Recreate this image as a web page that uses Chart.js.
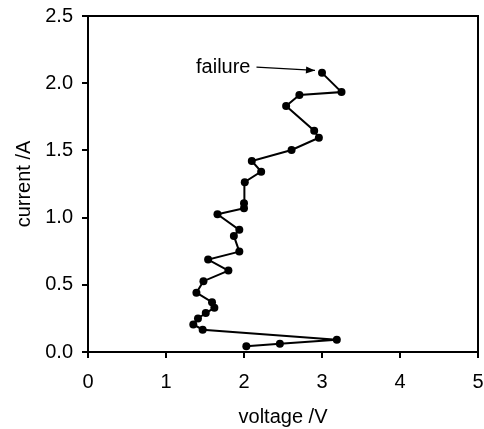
<!DOCTYPE html>
<html>
<head>
<meta charset="utf-8">
<script src="https://cdn.jsdelivr.net/npm/chart.js@4/dist/chart.umd.min.js"></script>
<style>
  html, body { margin: 0; padding: 0; background: #fff; overflow: hidden; }
</style>
</head>
<body>
<canvas id="ivChart" width="484" height="429"></canvas>
<script>
// dữ liệu
var voltage = [2.03, 2.46, 3.19, 1.47, 1.35, 1.41, 1.51, 1.62, 1.59, 1.39,
               1.48, 1.80, 1.54, 1.94, 1.87, 1.94, 1.66, 2.00, 2.00, 2.01,
               2.22, 2.10, 2.61, 2.96, 2.90, 2.54, 2.71, 3.25, 3.00];
var current = [0.042, 0.062, 0.091, 0.166, 0.205, 0.25, 0.29, 0.329, 0.371, 0.441,
               0.527, 0.606, 0.688, 0.747, 0.864, 0.909, 1.025, 1.07, 1.107, 1.263,
               1.342, 1.421, 1.503, 1.594, 1.646, 1.83, 1.912, 1.934, 2.077];
var xTicks = [0, 1, 2, 3, 4, 5];
var yTicks = [0, 0.5, 1.0, 1.5, 2.0, 2.5];
var noteText = "failure";
var noteFrom = [2.16, 2.12];
var noteTo = [2.91, 2.095];

var points = [];
for (let i = 0; i < voltage.length; i++) {
    points.push({ x: voltage[i], y: current[i] });
}

const fontFam = "'Liberation Sans', Arial, sans-serif";
const fontSize = 20;

// vẽ khung và mũi tên ghi chú
const framePlugin = {
    id: 'frame',
    afterDraw(chart) {
        const ctx = chart.ctx;
        const a = chart.chartArea;
        const sx = chart.scales.x, sy = chart.scales.y;
        ctx.save();
        ctx.strokeStyle = '#000';
        ctx.lineWidth = 2;
        ctx.beginPath();
        ctx.moveTo(a.left, a.top);
        ctx.lineTo(a.right, a.top);
        ctx.lineTo(a.right, a.bottom);
        ctx.stroke();

        const x1 = sx.getPixelForValue(noteFrom[0]), y1 = sy.getPixelForValue(noteFrom[1]);
        const x2 = sx.getPixelForValue(noteTo[0]), y2 = sy.getPixelForValue(noteTo[1]);
        ctx.lineWidth = 1.2;
        ctx.beginPath();
        ctx.moveTo(x1, y1);
        ctx.lineTo(x2, y2);
        ctx.stroke();
        const ang = Math.atan2(y2 - y1, x2 - x1);
        ctx.fillStyle = '#000';
        ctx.beginPath();
        ctx.moveTo(x2, y2);
        ctx.lineTo(x2 - 9 * Math.cos(ang) + 3.5 * Math.sin(ang), y2 - 9 * Math.sin(ang) - 3.5 * Math.cos(ang));
        ctx.lineTo(x2 - 9 * Math.cos(ang) - 3.5 * Math.sin(ang), y2 - 9 * Math.sin(ang) + 3.5 * Math.cos(ang));
        ctx.closePath();
        ctx.fill();

        ctx.font = fontSize + 'px ' + fontFam;
        ctx.textAlign = 'right';
        ctx.textBaseline = 'middle';
        ctx.fillText(noteText, x1 - 6, y1);
        ctx.restore();
    }
};

new Chart(document.getElementById('ivChart'), {
    type: 'scatter',
    data: {
        datasets: [{
            data: points,
            showLine: true,
            borderColor: '#000',
            backgroundColor: '#000',
            borderWidth: 2,
            pointRadius: 4,
            pointBackgroundColor: '#000',
            pointBorderWidth: 0
        }]
    },
    options: {
        responsive: false,
        animation: false,
        layout: { padding: { top: 16, right: 6, left: 0, bottom: 0 } },
        plugins: { legend: { display: false }, tooltip: { enabled: false } },
        scales: {
            x: {
                type: 'linear',
                min: 0, max: 5,
                afterBuildTicks: function(s) { s.ticks = xTicks.map(v => ({ value: v })); },
                afterFit: function(s) { s.height = 77; s.paddingLeft = 0; s.paddingRight = 0; },
                grid: { drawOnChartArea: false, color: '#000', lineWidth: 2, tickLength: 6 },
                border: { color: '#000', width: 2 },
                ticks: { color: '#000', padding: 12, maxRotation: 0, font: { family: fontFam, size: fontSize }, callback: v => String(v) },
                title: { display: true, text: 'voltage /V', color: '#000', padding: { top: 2, bottom: 0 }, font: { family: fontFam, size: fontSize } }
            },
            y: {
                type: 'linear',
                min: 0, max: 2.5,
                afterBuildTicks: function(s) { s.ticks = yTicks.map(v => ({ value: v })); },
                afterFit: function(s) { s.width = 88; s.paddingTop = 0; s.paddingBottom = 0; },
                grid: { drawOnChartArea: false, color: '#000', lineWidth: 2, tickLength: 6 },
                border: { color: '#000', width: 2 },
                ticks: { color: '#000', padding: 9, font: { family: fontFam, size: fontSize }, callback: v => v.toFixed(1) },
                title: { display: true, text: 'current /A', color: '#000', padding: { top: 12, bottom: 0 }, font: { family: fontFam, size: fontSize } }
            }
        }
    },
    plugins: [framePlugin]
});
</script>
</body>
</html>
